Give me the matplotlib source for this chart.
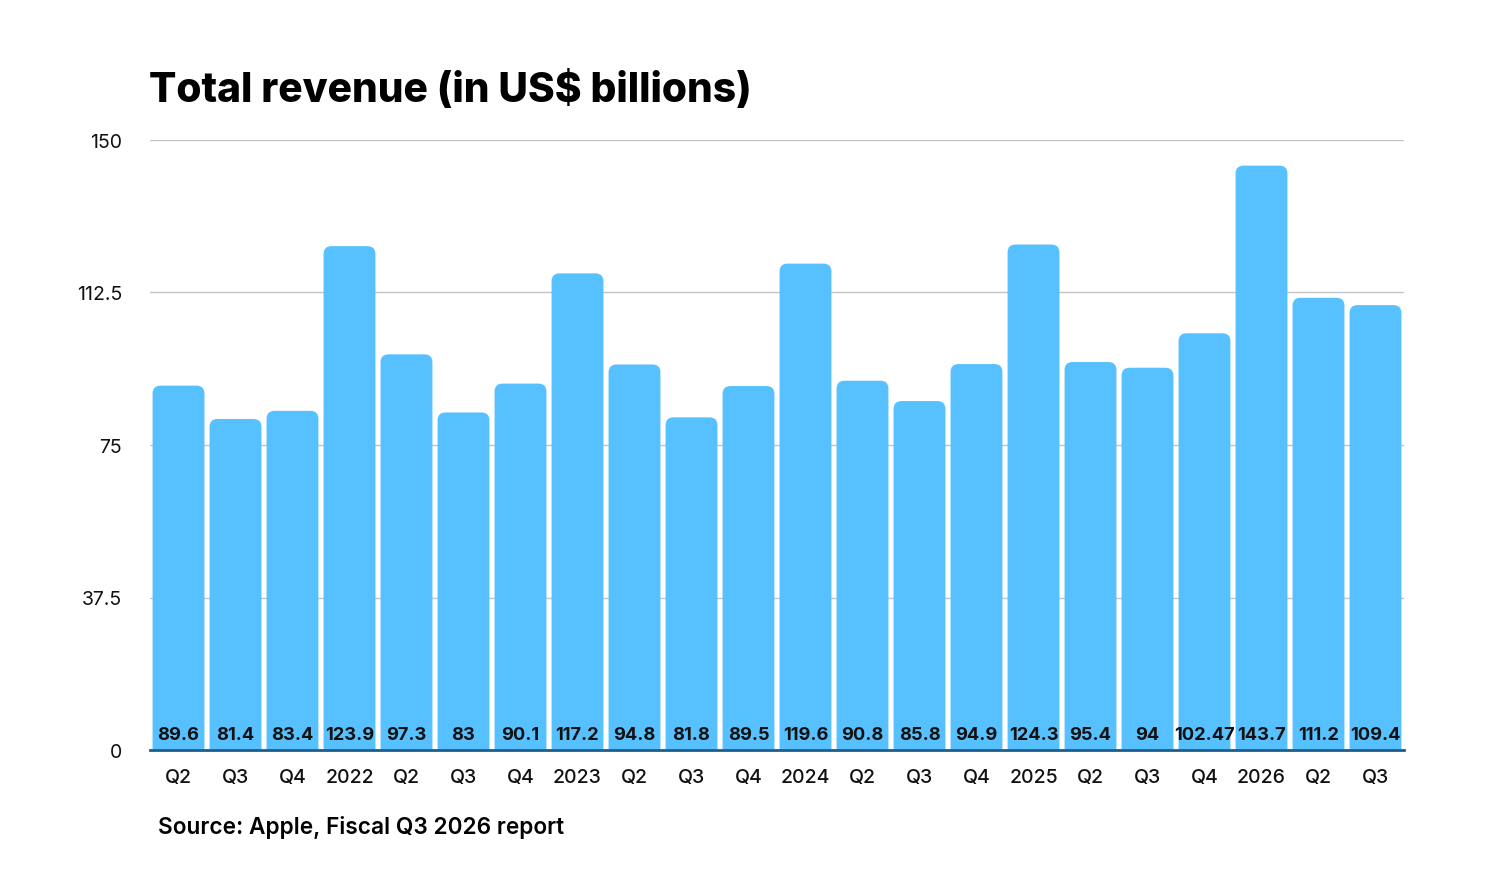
import matplotlib
matplotlib.use("Agg")
import matplotlib.pyplot as plt
from matplotlib.patches import FancyBboxPatch

categories = ["Q2", "Q3", "Q4", "2022", "Q2", "Q3", "Q4", "2023", "Q2", "Q3", "Q4",
              "2024", "Q2", "Q3", "Q4", "2025", "Q2", "Q3", "Q4", "2026", "Q2", "Q3"]
revenue = [89.6, 81.4, 83.4, 123.9, 97.3, 83, 90.1, 117.2, 94.8, 81.8, 89.5,
           119.6, 90.8, 85.8, 94.9, 124.3, 95.4, 94, 102.47, 143.7, 111.2, 109.4]
value_labels = ["89.6", "81.4", "83.4", "123.9", "97.3", "83", "90.1", "117.2", "94.8", "81.8", "89.5",
                "119.6", "90.8", "85.8", "94.9", "124.3", "95.4", "94", "102.47", "143.7", "111.2", "109.4"]
yticks = [0, 37.5, 75, 112.5, 150]
ytick_labels = ["0", "37.5", "75", "112.5", "150"]

plt.rcParams['font.family'] = ['Inter', 'DejaVu Sans']

W, H = 1510, 879
fig = plt.figure(figsize=(W / 100, H / 100), dpi=100)
ax = fig.add_axes([150 / W, 1 - 751 / H, 1254 / W, 610 / H])

bar_color = "#56C1FE"
x = list(range(len(revenue)))
bars = ax.bar(x, revenue, width=0.91, color="none", zorder=2)

# rounded-top bars built from the bar geometry
r_x = 0.14
px_per_x = 1254 / 22
px_per_y = 610 / 150
aspect = (r_x * px_per_x / px_per_y) / r_x
for rect in bars:
    bx, bw, bh = rect.get_x(), rect.get_width(), rect.get_height()
    r_y = r_x * aspect
    p = FancyBboxPatch((bx, -r_y * 2), bw, bh + r_y * 2,
                       boxstyle=f"round,pad=0,rounding_size={r_x}",
                       mutation_aspect=aspect, facecolor=bar_color,
                       edgecolor="none", zorder=2, clip_on=True)
    ax.add_patch(p)

for xi, lab in zip(x, value_labels):
    ax.text(xi, 3.9, lab, ha="center", va="center", fontsize=13.2,
            fontweight="bold", color="#111111", zorder=4)

ax.set_xlim(-0.5, len(revenue) - 0.5)
ax.set_ylim(0, 150)
ax.set_yticks(yticks)
ax.set_yticklabels(ytick_labels)
ax.set_xticks(x)
ax.set_xticklabels(categories)
ax.tick_params(axis="y", length=0, pad=20, labelsize=14, labelcolor="#111111")
ax.tick_params(axis="x", length=0, pad=13, labelsize=14, labelcolor="#111111")
for lbl in ax.get_xticklabels():
    lbl.set_fontweight("medium")

ax.grid(axis="y", color="#C4C4C4", linewidth=1.0, zorder=0)
ax.set_axisbelow(True)
for s in ["top", "right", "left"]:
    ax.spines[s].set_visible(False)
ax.spines["bottom"].set_color("#1F5C8E")
ax.spines["bottom"].set_linewidth(2)
ax.spines["bottom"].set_zorder(5)

fig.text(149 / W, 1 - 90 / H, "Total revenue (in US$ billions)", fontsize=29.3,
         fontweight="heavy", ha="left", va="center", color="#000000")
fig.text(158 / W, 1 - 828 / H, "Source: Apple, Fiscal Q3 2026 report", fontsize=16.3,
         fontweight="semibold", ha="left", va="center", color="#000000")

fig.savefig("out.png", dpi=100, facecolor="white")
